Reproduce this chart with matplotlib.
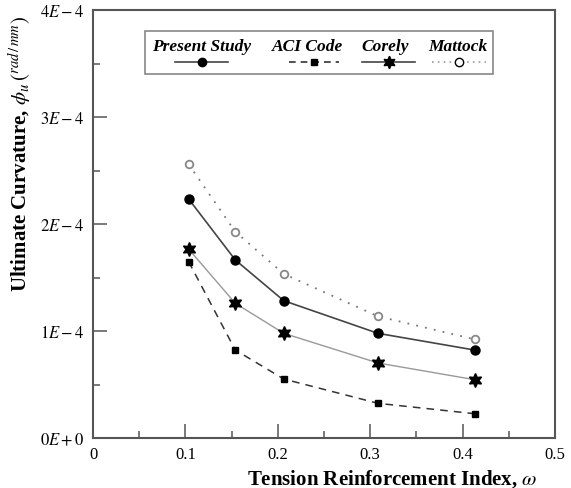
import matplotlib
matplotlib.use('Agg')
import matplotlib.pyplot as plt
from matplotlib.lines import Line2D
from matplotlib.patches import Rectangle
from matplotlib.ticker import MultipleLocator, FixedFormatter, FixedLocator

# Données
omega = [0.1035, 0.154, 0.2065, 0.3085, 0.413]
present_study = [2.234e-4, 1.664e-4, 1.283e-4, 0.978e-4, 0.822e-4]
aci_code = [1.648e-4, 0.822e-4, 0.551e-4, 0.324e-4, 0.227e-4]
corely = [1.766e-4, 1.259e-4, 0.978e-4, 0.701e-4, 0.545e-4]
mattock = [2.558e-4, 1.928e-4, 1.533e-4, 1.137e-4, 0.922e-4]

x_ticks = [0, 0.1, 0.2, 0.3, 0.4, 0.5]
x_labels = ['0', '0.1', '0.2', '0.3', '0.4', '0.5']
y_ticks = [0, 1e-4, 2e-4, 3e-4, 4e-4]
y_labels = [r'$0E+0$', r'$1E-4$', r'$2E-4$', r'$3E-4$', r'$4E-4$']

plt.rcParams['font.family'] = 'Liberation Serif'
plt.rcParams['mathtext.fontset'] = 'stix'

W, H = 571, 489
fig = plt.figure(figsize=(W / 100, H / 100), dpi=100)
ax = fig.add_axes([93 / W, 1 - 439 / H, (555 - 93) / W, (439 - 11) / H])

star6 = (6, 1, 0)
ax.plot(omega, mattock, linestyle=(0, (1, 4)), color='#777777', linewidth=1.3,
        marker='o', markersize=5.5, markerfacecolor='white',
        markeredgecolor='#888888', markeredgewidth=1.3)
ax.plot(omega, present_study, '-', color='#444444', linewidth=1.2,
        marker='o', markersize=6.5, markerfacecolor='black', markeredgecolor='black')
ax.plot(omega, corely, '-', color='#999999', linewidth=1.0,
        marker=star6, markersize=10, markerfacecolor='black', markeredgecolor='black')
ax.plot(omega, aci_code, linestyle=(0, (5, 4)), color='#333333', linewidth=1.1,
        marker='s', markersize=4, markerfacecolor='black', markeredgecolor='black')

ax.set_xlim(0, 0.5)
ax.set_ylim(0, 4e-4)
ax.xaxis.set_major_locator(FixedLocator(x_ticks))
ax.xaxis.set_major_formatter(FixedFormatter(x_labels))
ax.xaxis.set_minor_locator(MultipleLocator(0.05))
ax.yaxis.set_major_locator(FixedLocator(y_ticks))
ax.yaxis.set_major_formatter(FixedFormatter(y_labels))
ax.yaxis.set_minor_locator(MultipleLocator(0.5e-4))
ax.tick_params(which='major', direction='in', length=10, width=1.1,
               color='#555555', labelsize=12, pad=6)
ax.tick_params(which='minor', direction='in', length=5, width=1.1, color='#555555')
for s in ax.spines.values():
    s.set_color('#555555')
    s.set_linewidth(1.5)

ax.set_xlabel(r'Tension Reinforcement Index, $\omega$', fontsize=15, fontweight='bold')
ax.xaxis.set_label_coords(0.648, -0.068)
ax.set_ylabel(r'Ultimate Curvature, $\phi_u\,(^{rad\,/\,mm})$', fontsize=15,
              fontweight='bold')
ax.yaxis.set_label_coords(-0.13, 0.665)

# Légende dessinée à la main (titres au-dessus des symboles)
def fx(px):
    return px / W

def fy(py):
    return 1 - py / H

fig.patches.append(Rectangle((fx(145), fy(75)), fx(493) - fx(145), fy(32) - fy(75),
                             transform=fig.transFigure, fill=False,
                             edgecolor='#888888', linewidth=1.2))
entries = [
    ('Present Study', 202, 175, 228, dict(linestyle='-', color='#444444', marker='o',
                                          markersize=6, markerfacecolor='black',
                                          markeredgecolor='black')),
    ('ACI Code', 308, 289, 339, dict(linestyle=(0, (4, 3)), color='#333333', marker='s',
                                     markersize=5, markerfacecolor='black',
                                     markeredgecolor='black')),
    ('Corely', 385, 362, 415, dict(linestyle='-', color='#444444', marker=star6,
                                   markersize=9, markerfacecolor='black',
                                   markeredgecolor='black')),
    ('Mattock', 458, 432, 486, dict(linestyle=(0, (1, 2.5)), color='#999999', marker='o',
                                    markersize=6, markerfacecolor='white',
                                    markeredgecolor='black')),
]
for label, xc, x0, x1, style in entries:
    fig.text(fx(xc), fy(47), label, ha='center', va='center', fontsize=12.5,
             fontweight='bold', fontstyle='italic')
    fig.lines.append(Line2D([fx(x0), fx(x1)], [fy(63), fy(63)], transform=fig.transFigure,
                            linewidth=1.2, markevery=[], **style))
    fig.lines.append(Line2D([fx((x0 + x1) / 2)], [fy(63)], transform=fig.transFigure,
                            linestyle='none', **{k: v for k, v in style.items()
                                                 if k not in ('linestyle', 'color')}))

fig.savefig('out.png', dpi=100)
